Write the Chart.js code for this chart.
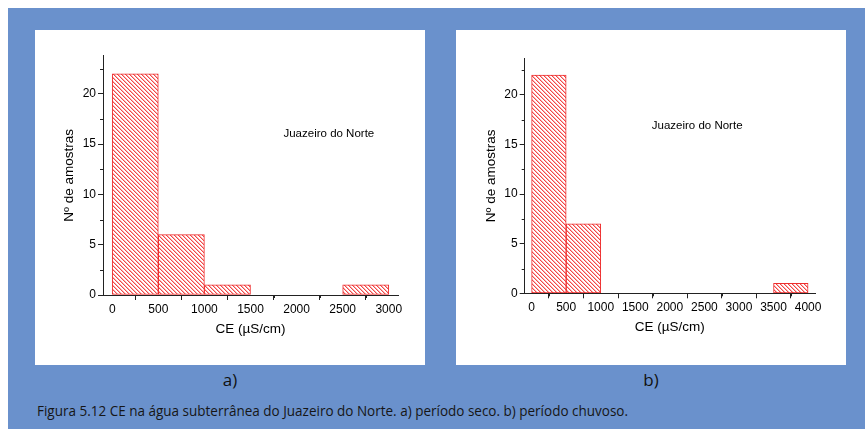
<!DOCTYPE html>
<html><head><meta charset="utf-8">
<script src="https://cdn.jsdelivr.net/npm/chart.js@4.4.1/dist/chart.umd.min.js"></script>
<style>
html,body{margin:0;padding:0;background:#fff;}
#page{position:relative;width:865px;height:429px;overflow:hidden;background:#fff;}
#blue{position:absolute;left:8px;top:8px;width:857px;height:421px;background:#6a91cc;}
.panel{position:absolute;top:30px;width:390px;height:335px;background:#fff;}
canvas{position:absolute;}
.sub{position:absolute;font-family:"Open Sans","Noto Sans",sans-serif;font-size:17px;color:#111;transform:translate(-50%,-50%);line-height:1;}
#cap{position:absolute;left:37px;top:411px;font-family:"Open Sans","Noto Sans",sans-serif;font-size:14px;color:#161616;white-space:nowrap;transform-origin:0 50%;line-height:1;}
</style></head>
<body><div id="page">
<div id="blue"></div>
<div class="panel" style="left:35px"></div>
<div class="panel" style="left:456px"></div>
<canvas id="cA" width="390" height="345" style="left:35px;top:20px"></canvas>
<canvas id="cB" width="390" height="345" style="left:456px;top:20px"></canvas>
<div class="sub" style="left:230px;top:379px">a)</div>
<div class="sub" style="left:651px;top:379px">b)</div>
<div id="cap">Figura 5.12 CE na água subterrânea do Juazeiro do Norte. a) período seco. b) período chuvoso.</div>
</div>
<script>
// ---- data ----
const binCentersA = [250, 750, 1250, 1750, 2250, 2750];
const countsA     = [22, 6, 1, 0, 0, 1];
const binCentersB = [250, 750, 1250, 1750, 2250, 2750, 3250, 3750];
const countsB     = [22, 7, 0, 0, 0, 0, 0, 1];
const xTicksA = [0, 500, 1000, 1500, 2000, 2500, 3000];
const xTicksB = [0, 500, 1000, 1500, 2000, 2500, 3000, 3500, 4000];
const yTicks  = [0, 5, 10, 15, 20];
const xTitle = "CE (\u00b5S/cm)";
const yTitle = "N\u00ba de amostras";
const noteText = "Juazeiro do Norte";

// caption fit
(function(){
  const cap = document.getElementById('cap');
  const w = cap.getBoundingClientRect().width;
  cap.style.transform = 'translateY(-50%) scaleX(' + (591 / w) + ')';
})();

function hatch(ctx){
  const c = document.createElement('canvas'); c.width = 4; c.height = 4;
  const g = c.getContext('2d');
  g.fillStyle = '#ffffff'; g.fillRect(0,0,4,4);
  for (let i = 0; i < 4; i++) {
    g.fillStyle = 'rgb(242,72,72)'; g.fillRect(i, i, 1, 1);
    g.fillStyle = 'rgb(251,178,178)'; g.fillRect((i + 1) % 4, i, 1, 1);
  }
  return ctx.createPattern(c, 'repeat');
}

const axisColor = '#222';
const tickFont = {family: '"Liberation Sans", Arial, sans-serif', size: 12};
const titleFont = {family: '"Liberation Sans", Arial, sans-serif', size: 13.5};

const extras = {
  id: 'extras',
  afterDraw(chart, args, opts) {
    const ctx = chart.ctx, xs = chart.scales.x, ys = chart.scales.y;
    ctx.save();
    ctx.strokeStyle = axisColor; ctx.lineWidth = 1;
    ctx.beginPath();
    const xt = opts.xTicks;
    for (let i = 0; i < xt.length - 1; i++) {
      const px = Math.round(xs.getPixelForValue((xt[i] + xt[i+1]) / 2)) + 0.5;
      ctx.moveTo(px, ys.bottom); ctx.lineTo(px, ys.bottom + 3);
    }
    for (let i = 0; i < yTicks.length; i++) {
      const py = Math.round(ys.getPixelForValue(yTicks[i] + 2.5)) + 0.5;
      ctx.moveTo(xs.left, py); ctx.lineTo(xs.left - 3, py);
    }
    ctx.stroke();
    ctx.fillStyle = '#000';
    ctx.font = '11.5px "Liberation Sans", Arial, sans-serif';
    ctx.textAlign = 'center'; ctx.textBaseline = 'middle';
    ctx.fillText(noteText, xs.getPixelForValue(opts.noteX), ys.getPixelForValue(opts.noteY));
    ctx.restore();
  }
};

function makeChart(id, centers, counts, xt, g) {
  const canvas = document.getElementById(id);
  const ctx = canvas.getContext('2d');
  return new Chart(ctx, {
    type: 'bar',
    data: { datasets: [{
      data: centers.map((c, i) => ({x: c, y: counts[i]})),
      backgroundColor: hatch(ctx),
      borderColor: 'rgb(238,45,45)',
      borderWidth: 1,
      borderSkipped: false,
      barPercentage: 1, categoryPercentage: 1
    }]},
    options: {
      responsive: false, animation: false, devicePixelRatio: 1,
      layout: {padding: {top: g.top, right: g.right, left: 0, bottom: 0}},
      plugins: {legend: {display: false}, tooltip: {enabled: false},
        extras: {xTicks: xt, noteX: g.noteX, noteY: g.noteY}},
      scales: {
        x: {
          type: 'linear', min: -100, max: g.xmax, offset: false,
          grid: {display: true, drawOnChartArea: false, drawTicks: true, tickLength: 5, color: axisColor, tickColor: axisColor},
          border: {display: true, color: axisColor, width: 1},
          ticks: {padding: 2, font: tickFont, color: '#000', maxRotation: 0, autoSkip: false, callback: v => String(v)},
          afterBuildTicks: s => { s.ticks = xt.map(v => ({value: v})); },
          afterFit: s => { s.height = g.xh; },
          title: {display: true, text: xTitle, font: titleFont, color: '#000', padding: {top: 0, bottom: g.xtp}}
        },
        y: {
          min: 0, max: g.ymax,
          grid: {display: true, drawOnChartArea: false, drawTicks: true, tickLength: 5, color: axisColor, tickColor: axisColor},
          border: {display: true, color: axisColor, width: 1},
          ticks: {padding: 2, font: tickFont, color: '#000', callback: v => String(v)},
          afterBuildTicks: s => { s.ticks = yTicks.map(v => ({value: v})); },
          afterFit: s => { s.width = g.yw; },
          title: {display: true, text: yTitle, font: titleFont, color: '#000', padding: {top: g.ytp, bottom: 0}}
        }
      }
    },
    plugins: [extras]
  });
}

makeChart('cA', binCentersA, countsA, xTicksA,
  {top: 35.7, right: 27, xh: 70, yw: 68, xmax: 3100, ymax: 23.8, xtp: 27.9, ytp: 25.9, noteX: 2350, noteY: 16});
makeChart('cB', binCentersB, countsB, xTicksB,
  {top: 38.3, right: 31, xh: 71.7, yw: 68.7, xmax: 4100, ymax: 23.7, xtp: 29.9, ytp: 26.9, noteX: 2395, noteY: 16.9});
</script>
</body></html>
